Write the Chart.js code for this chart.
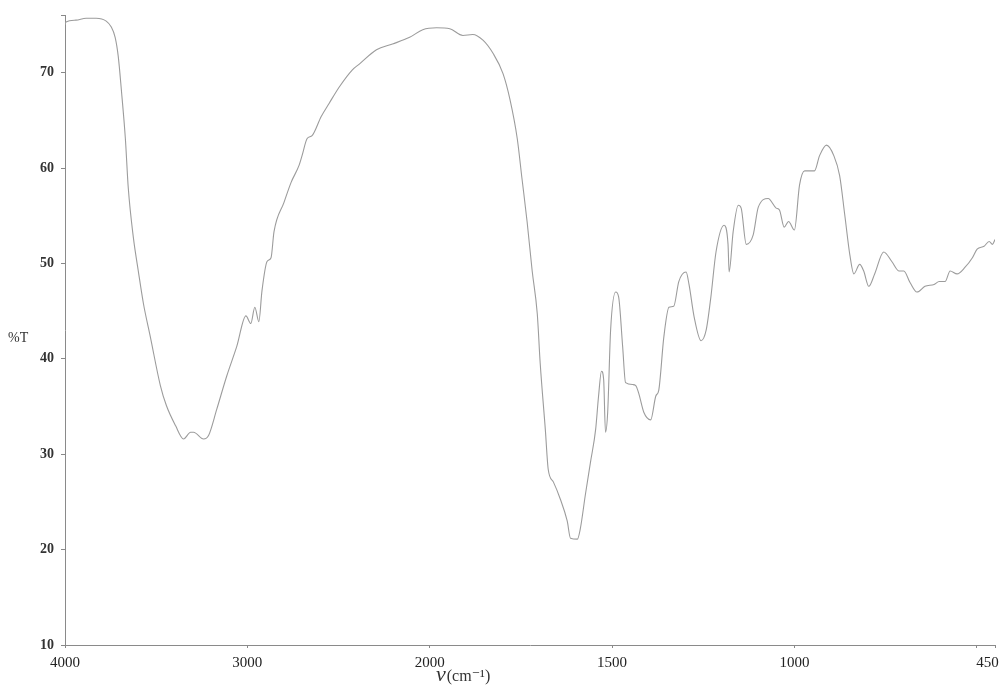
<!DOCTYPE html>
<html>
<head>
<meta charset="utf-8">
<title>IR spectrum</title>
<script src="https://cdn.jsdelivr.net/npm/chart.js@4/dist/chart.umd.min.js"></script>
<style>
  html, body { margin: 0; padding: 0; background: #fff; }
  #wrap { width: 1005px; height: 686px; position: relative; }
</style>
</head>
<body>
<div id="wrap"><canvas id="spectrum"></canvas></div>
<script>
// wavenumber (cm-1) and %T
const wavenumbers = [
  4000, 3995, 3940, 3884, 3829, 3774, 3747, 3725, 3708, 3691, 3669, 3653, 3625, 3598, 3570,
  3532, 3477, 3444, 3394, 3350, 3311, 3295, 3240, 3212, 3168, 3113, 3058, 3008, 2981, 2959,
  2937, 2920, 2892, 2870, 2854, 2799, 2760, 2716, 2700, 2672, 2645, 2595, 2551, 2496, 2424,
  2386, 2292, 2204, 2110, 2038, 1981, 1945, 1909, 1882, 1854, 1826, 1799, 1780, 1760, 1747,
  1733, 1719, 1705, 1697, 1683, 1675, 1661, 1642, 1623, 1614, 1595, 1587, 1573, 1559, 1545,
  1537, 1529, 1523, 1518, 1512, 1504, 1490, 1482, 1471, 1463, 1443, 1435, 1427, 1413, 1394,
  1380, 1372, 1358, 1344, 1331, 1317, 1297, 1289, 1275, 1256, 1242, 1229, 1215, 1193, 1182,
  1179, 1168, 1154, 1146, 1132, 1113, 1099, 1072, 1050, 1041, 1028, 1016, 1000, 986, 972,
  945, 931, 912, 892, 876, 862, 848, 837, 821, 810, 796, 780, 755, 733, 713,
  700, 683, 664, 642, 617, 603, 587, 573, 554, 532, 512, 499, 480, 466, 457, 450
];
const transmittance = [
  75.0, 75.3, 75.5, 75.7, 75.7, 75.4, 74.8, 73.7, 71.7, 68.2, 63.1, 57.9, 52.7, 49.2, 45.8,
  42.3, 37.2, 35.1, 33.0, 31.6, 32.3, 32.3, 31.6, 32.0, 34.7, 38.2, 41.3, 44.5, 43.7, 45.4,
  43.9, 47.1, 50.2, 50.6, 53.3, 56.4, 58.5, 60.3, 61.3, 63.1, 63.4, 65.4, 66.8, 68.5, 70.3,
  70.9, 72.4, 73.0, 73.7, 74.5, 74.7, 74.6, 73.9, 74.0, 73.4, 72.0, 69.9, 67.2, 63.1, 58.9,
  54.4, 49.2, 44.7, 39.5, 32.6, 28.4, 27.1, 25.3, 23.0, 21.2, 21.1, 22.2, 25.8, 29.2, 32.6,
  36.1, 38.7, 37.8, 32.3, 34.4, 43.0, 47.0, 46.5, 41.3, 37.5, 37.3, 37.2, 36.4, 34.4, 33.6,
  36.1, 36.7, 42.3, 45.4, 45.5, 48.1, 49.1, 47.8, 44.4, 41.9, 43.0, 46.5, 51.2, 54.0, 52.0,
  49.1, 53.3, 56.1, 55.8, 52.0, 53.0, 55.9, 56.8, 55.8, 55.6, 53.8, 54.4, 53.5, 58.2, 59.7,
  59.7, 61.3, 62.4, 61.3, 59.2, 55.1, 50.9, 48.9, 49.9, 49.2, 47.6, 48.9, 51.2, 50.2, 49.2,
  49.2, 48.0, 47.0, 47.6, 47.8, 48.1, 48.1, 49.2, 48.9, 49.6, 50.6, 51.5, 51.8, 52.3, 52.0, 52.5
];

const xTickValues = [4000, 3000, 2000, 1500, 1000, 500, 450];
// trailing spaces pull the last label in from the canvas edge
const xTickLabels = ['4000', '3000', '2000', '1500', '1000', '', '450\u2002\u2002'];
const yTickValues = [10, 20, 30, 40, 50, 60, 70, 76];

// the wavenumber axis is compressed 2:1 above 2000 cm-1
const toAxis = (w) => (w >= 2000 ? 4000 - w : 2000 + (2000 - w) * 2);

const points = wavenumbers.map((w, i) => ({ x: toAxis(w), y: transmittance[i] }));

const serif = '"Liberation Serif", "DejaVu Serif", serif';

const axisText = {
  id: 'axisText',
  afterDraw(chart) {
    const { ctx } = chart;
    ctx.save();
    ctx.fillStyle = '#333';
    ctx.textBaseline = 'alphabetic';
    ctx.textAlign = 'left';
    ctx.font = '14px ' + serif;
    ctx.fillText('%T', 8, 342);

    ctx.font = 'italic 22px ' + serif;
    ctx.fillText('ν', 436, 681);
    const nuW = ctx.measureText('ν').width;
    ctx.font = '16px ' + serif;
    ctx.fillText('(cm⁻¹)', 436 + nuW + 1, 681);
    ctx.restore();
  }
};

const ctx = document.getElementById('spectrum').getContext('2d');
new Chart(ctx, {
  type: 'line',
  data: {
    datasets: [{
      data: points,
      borderColor: '#9c9c9c',
      borderWidth: 1.1,
      pointRadius: 0,
      fill: false,
      cubicInterpolationMode: 'monotone'
    }]
  },
  options: {
    responsive: true,
    maintainAspectRatio: false,
    animation: false,
    layout: { padding: { top: 8, right: 0, left: 0, bottom: 0 } },
    plugins: {
      legend: { display: false },
      tooltip: { enabled: false }
    },
    scales: {
      x: {
        type: 'linear',
        min: 0,
        max: toAxis(450),
        afterBuildTicks: (scale) => {
          scale.ticks = xTickValues.map(w => ({ value: toAxis(w) }));
        },
        afterFit: (scale) => {
          scale.height = 41;
          scale.paddingRight = 10;
        },
        ticks: {
          autoSkip: false,
          maxRotation: 0,
          padding: 6,
          color: '#222',
          font: { family: serif, size: 15 },
          callback: (value, index) => xTickLabels[index]
        },
        grid: { drawOnChartArea: false, tickLength: 3, color: '#888' },
        border: { color: '#8a8a8a', width: 1 }
      },
      y: {
        min: 10,
        max: 76,
        afterBuildTicks: (scale) => {
          scale.ticks = yTickValues.map(v => ({ value: v }));
        },
        afterFit: (scale) => { scale.width = 65; },
        ticks: {
          autoSkip: false,
          padding: 7,
          color: '#333',
          font: { family: serif, size: 14, weight: 'bold' },
          callback: (value) => (value % 10 === 0 ? value : '')
        },
        grid: { drawOnChartArea: false, tickLength: 4, color: '#888' },
        border: { color: '#8a8a8a', width: 1 }
      }
    }
  },
  plugins: [axisText]
});
</script>
</body>
</html>
